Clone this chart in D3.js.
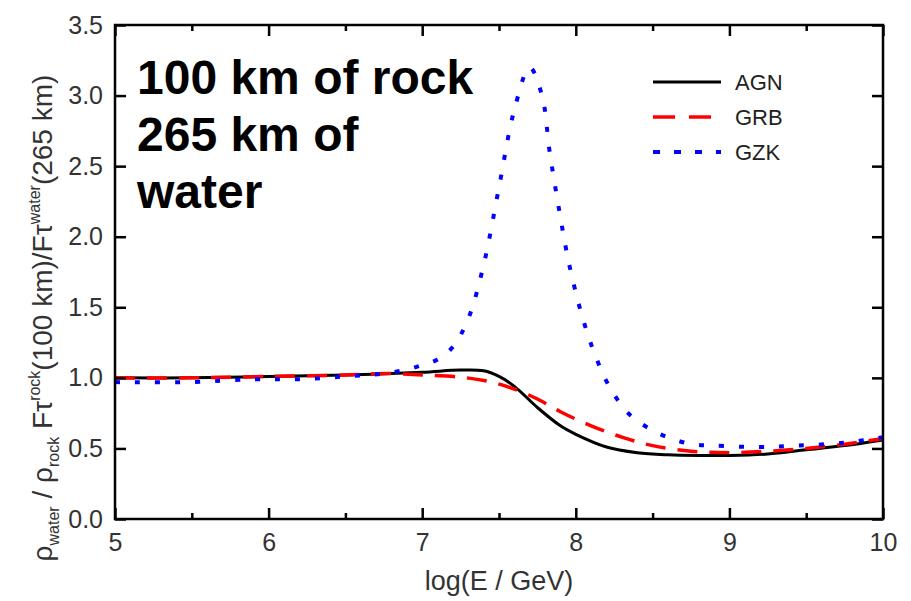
<!DOCTYPE html>
<html>
<head>
<meta charset="utf-8">
<script src="https://cdn.jsdelivr.net/npm/d3@7"></script>
<style>
  body { margin: 0; background: #fff; }
  svg { display: block; font-family: "Liberation Sans", Arial, sans-serif; }
</style>
</head>
<body>
<svg id="chart" width="911" height="601"></svg>
<script>
// values: log(E/GeV) and ratio
const agnE = [5.0, 5.5, 6.0, 6.5, 7.0, 7.25, 7.4, 7.5, 7.6, 7.75, 7.9, 8.0, 8.2, 8.4, 8.6, 8.8, 9.0, 9.25, 9.5, 9.75, 10.0];
const agnR = [1.00, 1.00, 1.01, 1.02, 1.04, 1.055, 1.05, 1.01, 0.94, 0.79, 0.66, 0.60, 0.51, 0.47, 0.455, 0.45, 0.45, 0.46, 0.49, 0.52, 0.56];

const grbE = [5.0, 5.5, 6.0, 6.5, 6.8, 7.0, 7.25, 7.45, 7.6, 7.75, 7.9, 8.1, 8.3, 8.5, 8.75, 9.0, 9.25, 9.5, 9.75, 10.0];
const grbR = [1.00, 1.00, 1.01, 1.02, 1.03, 1.02, 1.005, 0.97, 0.92, 0.85, 0.76, 0.66, 0.58, 0.52, 0.48, 0.47, 0.48, 0.50, 0.53, 0.57];

const gzkE = [5.0, 5.5, 5.9, 6.2, 6.5, 6.75, 6.9, 7.0, 7.1, 7.2, 7.3, 7.4, 7.5, 7.6, 7.7, 7.78, 7.83, 7.89, 7.95, 8.02, 8.08, 8.13, 8.18, 8.25, 8.35, 8.48, 8.62, 8.76, 8.9, 9.2, 9.45, 9.75, 10.0];
const gzkR = [0.97, 0.97, 0.99, 0.99, 1.01, 1.03, 1.06, 1.09, 1.13, 1.22, 1.42, 1.80, 2.35, 2.90, 3.20, 3.00, 2.60, 2.20, 1.84, 1.52, 1.30, 1.15, 1.02, 0.88, 0.74, 0.64, 0.57, 0.53, 0.52, 0.51, 0.52, 0.54, 0.58];

const seriesNames = ["AGN", "GRB", "GZK"];
const xTicks = [5, 6, 7, 8, 9, 10];
const xMinorTicks = [5.5, 6.5, 7.5, 8.5, 9.5];
const yTicks = [0, 0.5, 1.0, 1.5, 2.0, 2.5, 3.0, 3.5];
const noteLines = ["100 km of rock", "265 km of", "water"];

const svg = d3.select("#chart");
const plotLeft = 115, plotRight = 883, plotTop = 25, plotBottom = 519;

const x = d3.scaleLinear().domain([5, 10]).range([plotLeft, plotRight]);
const y = d3.scaleLinear().domain([0, 3.5]).range([plotBottom, plotTop]);

const styles = {
    AGN: { color: "#000", dash: null, width: 3, legendDash: null },
    GRB: { color: "#ff0000", dash: "20,12", width: 3.5, legendDash: "22,14" },
    GZK: { color: "#0000ff", dash: "5,15", width: 4, legendDash: "7,14" }
};

const data = {
    AGN: agnE.map((e, i) => [e, agnR[i]]),
    GRB: grbE.map((e, i) => [e, grbR[i]]),
    GZK: gzkE.map((e, i) => [e, gzkR[i]])
};

// curves
const line = d3.line()
    .x(d => x(d[0]))
    .y(d => y(d[1]))
    .curve(d3.curveCatmullRom.alpha(0.5));

seriesNames.forEach(name => {
    let s = styles[name];
    svg.append("path")
        .datum(data[name])
        .attr("d", line)
        .attr("fill", "none")
        .attr("stroke", s.color)
        .attr("stroke-width", s.width)
        .attr("stroke-dasharray", s.dash);
});

// axes with inward ticks, mirrored on top and right
const fmt = d3.format(".1f");

svg.append("g")
    .attr("transform", "translate(0," + plotBottom + ")")
    .call(d3.axisBottom(x).tickValues(xTicks).tickSize(-11).tickPadding(14).tickFormat(d3.format("d")));
svg.append("g")
    .attr("transform", "translate(0," + plotBottom + ")")
    .call(d3.axisBottom(x).tickValues(xMinorTicks).tickSize(-6).tickFormat(""));
svg.append("g")
    .attr("transform", "translate(0," + plotTop + ")")
    .call(d3.axisTop(x).tickValues(xTicks).tickSize(-11).tickFormat(""));
svg.append("g")
    .attr("transform", "translate(0," + plotTop + ")")
    .call(d3.axisTop(x).tickValues(xMinorTicks).tickSize(-6).tickFormat(""));
svg.append("g")
    .attr("transform", "translate(" + plotLeft + ",0)")
    .call(d3.axisLeft(y).tickValues(yTicks).tickSize(-11).tickPadding(12).tickFormat(fmt));
svg.append("g")
    .attr("transform", "translate(" + plotRight + ",0)")
    .call(d3.axisRight(y).tickValues(yTicks).tickSize(-11).tickFormat(""));

svg.selectAll(".domain").remove();
svg.selectAll(".tick line").attr("stroke", "#000").attr("stroke-width", 2.5);
svg.selectAll(".tick text")
    .attr("font-size", 25)
    .attr("fill", "#333")
    .attr("font-family", "'Liberation Sans', Arial, sans-serif");

// frame
svg.append("rect")
    .attr("x", plotLeft).attr("y", plotTop)
    .attr("width", plotRight - plotLeft).attr("height", plotBottom - plotTop)
    .attr("fill", "none").attr("stroke", "#000").attr("stroke-width", 2.5);

// axis titles
svg.append("text")
    .attr("x", (plotLeft + plotRight) / 2)
    .attr("y", 590)
    .attr("text-anchor", "middle")
    .attr("font-size", 27)
    .attr("fill", "#333")
    .text("log(E / GeV)");

const yt = svg.append("text")
    .attr("transform", "translate(52,318) rotate(-90)")
    .attr("text-anchor", "middle")
    .attr("font-size", 28)
    .attr("fill", "#333");
yt.append("tspan").text("ρ");
yt.append("tspan").attr("font-size", 16).attr("dy", 7).text("water");
yt.append("tspan").attr("dy", -7).text(" / ρ");
yt.append("tspan").attr("font-size", 16).attr("dy", 7).text("rock");
yt.append("tspan").attr("dy", -7).text("  Fτ");
yt.append("tspan").attr("font-size", 16).attr("dy", -12).text("rock");
yt.append("tspan").attr("dy", 12).text("(100 km)/Fτ");
yt.append("tspan").attr("font-size", 16).attr("dy", -12).text("water");
yt.append("tspan").attr("dy", 12).text("(265 km)");

// annotation
svg.append("g").selectAll("text")
    .data(noteLines)
    .enter().append("text")
    .attr("x", 137)
    .attr("y", (d, i) => 94 + i * 57)
    .attr("font-size", 48)
    .attr("font-weight", "bold")
    .attr("fill", "#000")
    .text(d => d);

// legend
const legend = svg.append("g");
seriesNames.forEach((name, i) => {
    let s = styles[name];
    let ly = 82 + i * 35;
    legend.append("line")
        .attr("x1", 653).attr("x2", 721)
        .attr("y1", ly).attr("y2", ly)
        .attr("stroke", s.color)
        .attr("stroke-width", s.width)
        .attr("stroke-dasharray", s.legendDash);
    legend.append("text")
        .attr("x", 735).attr("y", ly)
        .attr("dy", "0.35em")
        .attr("font-size", 22)
        .attr("fill", "#222")
        .text(name);
});
</script>
</body>
</html>
